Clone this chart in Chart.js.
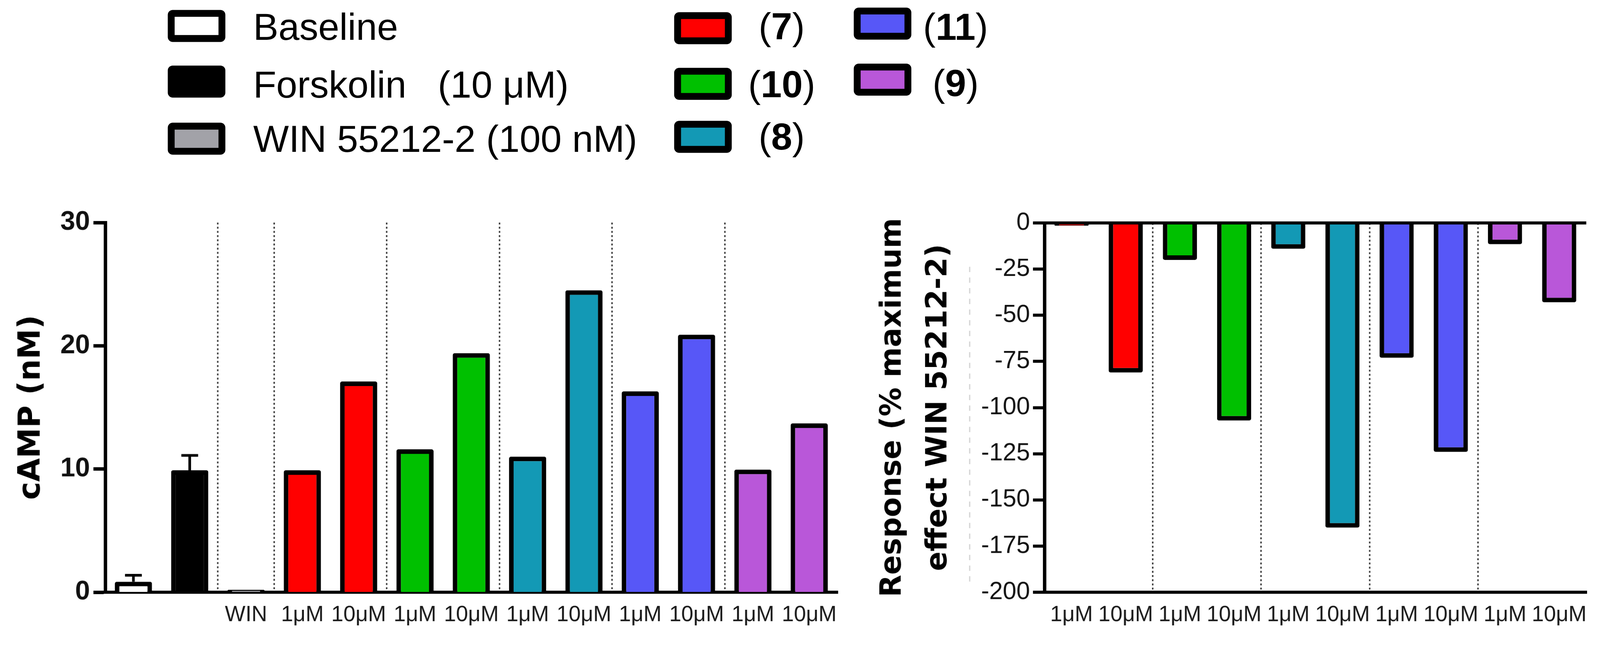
<!DOCTYPE html>
<html>
<head>
<meta charset="utf-8">
<script src="https://cdn.jsdelivr.net/npm/chart.js@4.4.0/dist/chart.umd.min.js"></script>
<style>
  html, body { margin: 0; padding: 0; background: #fff; overflow: hidden; }
  #page { width: 4196px; height: 1665px; position: absolute; left: 0; top: 0; transform-origin: 0 0; font-family: "Liberation Sans", Arial, sans-serif; }
  #leftWrap { position: absolute; left: 0; top: 500px; width: 2230px; height: 1165px; }
  #rightWrap { position: absolute; left: 2250px; top: 500px; width: 1946px; height: 1165px; }
  .lg-box { position: absolute; box-sizing: border-box; border: 18px solid #000; border-radius: 13px; }
  .lg-text { position: absolute; font-size: 99px; line-height: 1.15; white-space: pre; color: #000; }
</style>
</head>
<body>
<div id="page">
  <div id="legend"></div>
  <div id="leftWrap"><canvas id="left" width="2230" height="1165"></canvas></div>
  <div id="rightWrap"><canvas id="right" width="1946" height="1165"></canvas></div>
</div>
<script>
// ---------------- DATA ----------------
const legendLabels = ['Baseline', 'Forskolin   (10 μM)', 'WIN 55212-2 (100 nM)'];
const legendFills = ['#ffffff', '#000000', '#a2a2a8'];
const compounds = ['7', '10', '8', '11', '9'];
const compoundColors = ['#ff0000', '#00c000', '#1399b5', '#5757f7', '#b957d9'];

const leftLabels = ['', '', 'WIN', '1μM', '10μM', '1μM', '10μM', '1μM', '10μM', '1μM', '10μM', '1μM', '10μM'];
const campValues = [0.85, 9.9, 0.2, 9.9, 17.1, 11.6, 19.4, 11.0, 24.5, 16.3, 20.9, 9.95, 13.7];
const campErrors = [0.53, 1.2, null, null, null, null, null, null, null, null, null, null, null];
const leftTicks = [0, 10, 20, 30];

const rightLabels = ['1μM', '10μM', '1μM', '10μM', '1μM', '10μM', '1μM', '10μM', '1μM', '10μM'];
const responseValues = [-1.5, -81, -20, -107, -14, -165, -73, -124, -11.5, -43];
const rightTicks = [0, -25, -50, -75, -100, -125, -150, -175, -200];

// ---------------- PAGE SCALE (fit viewport) ----------------
const pageEl = document.getElementById('page');
const sc = Math.min(1, window.innerWidth / 4196, window.innerHeight / 1665);
if (sc < 1) pageEl.style.transform = 'scale(' + sc + ')';

// ---------------- LEGEND (HTML) ----------------
const legend = document.getElementById('legend');
const LG_FONT = 99;
function addItem(boxCX, boxCY, fill, html, textX, textCenterY, centered) {
  const w = 151, h = 84;
  const b = document.createElement('div');
  b.className = 'lg-box';
  b.style.left = (boxCX - w / 2) + 'px'; b.style.top = (boxCY - h / 2) + 'px';
  b.style.width = w + 'px'; b.style.height = h + 'px';
  b.style.background = fill;
  legend.appendChild(b);
  const t = document.createElement('div');
  t.className = 'lg-text';
  t.innerHTML = html;
  t.style.top = (textCenterY - 0.5635 * LG_FONT) + 'px';
  t.style.left = textX + 'px';
  if (centered) t.style.transform = 'translateX(-50%)';
  legend.appendChild(t);
}
const col1BoxY = [68, 214, 364];
const col1TextY = [69, 221, 363];
legendLabels.forEach((lab, i) => addItem(515, col1BoxY[i], legendFills[i], lab, 664, col1TextY[i], false));
const compLegendPos = [
  {bx: 1843, by: 74, tx: 2050, ty: 68},
  {bx: 1843, by: 220, tx: 2050, ty: 220},
  {bx: 1843, by: 359, tx: 2050, ty: 357},
  {bx: 2314, by: 62, tx: 2506, ty: 69},
  {bx: 2314, by: 209, tx: 2506, ty: 217}
];
compounds.forEach((c, i) => {
  const p = compLegendPos[i];
  addItem(p.bx, p.by, compoundColors[i], '(<b>' + c + '</b>)', p.tx, p.ty, true);
});

// ---------------- CHARTS ----------------
Chart.defaults.font.family = '"Liberation Sans", Arial, sans-serif';
Chart.defaults.color = '#000';
Chart.defaults.animation = false;

const leftColors = ['#ffffff', '#000000', legendFills[2]];
compoundColors.forEach(c => { leftColors.push(c, c); });
const rightColors = [];
compoundColors.forEach(c => { rightColors.push(c, c); });

const leftSeparators = [2, 3, 5, 7, 9, 11];
const rightSeparators = [2, 4, 6, 8];

const errorBarPlugin = {
  id: 'errorBars',
  afterDatasetsDraw(chart) {
    const meta = chart.getDatasetMeta(0);
    const ys = chart.scales.y;
    const ctx = chart.ctx;
    ctx.save();
    ctx.strokeStyle = '#000';
    ctx.lineWidth = 7;
    campErrors.forEach((e, i) => {
      if (e == null) return;
      const el = meta.data[i];
      const yTop = ys.getPixelForValue(campValues[i] + e);
      ctx.beginPath();
      ctx.moveTo(el.x, el.y);
      ctx.lineTo(el.x, yTop);
      ctx.moveTo(el.x - 22, yTop);
      ctx.lineTo(el.x + 22, yTop);
      ctx.stroke();
    });
    ctx.restore();
  }
};

new Chart(document.getElementById('left'), {
  type: 'bar',
  data: {
    labels: leftLabels,
    datasets: [{
      data: campValues,
      backgroundColor: leftColors,
      borderColor: '#000',
      borderWidth: 12,
      borderRadius: 5,
      borderSkipped: 'start',
      categoryPercentage: 1.0,
      barPercentage: 0.66
    }]
  },
  options: {
    responsive: false,
    devicePixelRatio: 1,
    layout: { padding: { top: 84, right: 34, left: 0, bottom: 0 } },
    plugins: { legend: { display: false }, tooltip: { enabled: false } },
    scales: {
      x: {
        offset: true,
        afterFit: s => { s.height = 111; },
        grid: {
          offset: true,
          drawTicks: false,
          lineWidth: 4,
          color: c => leftSeparators.includes(c.index) ? '#444' : 'rgba(0,0,0,0)'
        },
        border: { display: true, color: '#000', width: 8, dash: [5, 6] },
        ticks: { padding: 26, font: { size: 57 }, color: '#1a1a1a', maxRotation: 0, autoSkip: false }
      },
      y: {
        min: 0, max: 30,
        afterFit: s => { s.width = 276; },
        afterBuildTicks: s => { s.ticks = leftTicks.map(v => ({ value: v })); },
        grid: { drawOnChartArea: false, tickLength: 31, tickWidth: 9, tickColor: '#000', color: '#000' },
        border: { display: true, color: '#000', width: 9 },
        ticks: { padding: 9, font: { size: 70, weight: 'bold' }, color: '#111' },
        title: {
          display: true, text: 'cAMP (nM)',
          font: { family: '"DejaVu Sans", Verdana, sans-serif', size: 80, weight: 'bold', lineHeight: 1.2 },
          padding: { top: 35, bottom: 0 }, color: '#000'
        }
      }
    }
  },
  plugins: [errorBarPlugin]
});

const dashedArtifact = {
  id: 'dashedArtifact',
  beforeDraw(chart) {
    const ctx = chart.ctx;
    const ca = chart.chartArea;
    ctx.save();
    ctx.strokeStyle = '#d0d0d0';
    ctx.lineWidth = 3;
    ctx.setLineDash([14, 14]);
    ctx.beginPath();
    const x = ca.left - 196;
    ctx.moveTo(x, ca.top + 115);
    ctx.lineTo(x, ca.bottom - 20);
    ctx.stroke();
    ctx.restore();
  }
};

new Chart(document.getElementById('right'), {
  type: 'bar',
  data: {
    labels: rightLabels,
    datasets: [{
      data: responseValues,
      backgroundColor: rightColors,
      borderColor: '#000',
      borderWidth: 12,
      borderRadius: 5,
      borderSkipped: 'start',
      categoryPercentage: 1.0,
      barPercentage: 0.63
    }]
  },
  options: {
    responsive: false,
    devicePixelRatio: 1,
    layout: { padding: { top: 85, right: 36, left: 0, bottom: 0 } },
    plugins: { legend: { display: false }, tooltip: { enabled: false } },
    scales: {
      x: {
        offset: true,
        afterFit: s => { s.height = 111; },
        grid: {
          offset: true,
          drawTicks: false,
          lineWidth: 4,
          color: c => rightSeparators.includes(c.index) ? '#444' : 'rgba(0,0,0,0)'
        },
        border: { display: true, color: '#000', width: 8, dash: [5, 6] },
        ticks: { padding: 26, font: { size: 57 }, color: '#1a1a1a', maxRotation: 0, autoSkip: false }
      },
      y: {
        min: -200, max: 0,
        afterFit: s => { s.width = 489; },
        afterBuildTicks: s => { s.ticks = rightTicks.map(v => ({ value: v })); },
        grid: {
          drawOnChartArea: true, tickLength: 30, tickWidth: 8, tickColor: '#000',
          lineWidth: 8,
          color: c => (c.tick && c.tick.value === 0) ? '#000' : 'rgba(0,0,0,0)'
        },
        border: { display: true, color: '#000', width: 9 },
        ticks: { padding: 8, font: { size: 64 }, color: '#111' },
        title: {
          display: true, text: ['Response (% maximum', 'effect WIN 55212-2)'],
          font: { family: '"DejaVu Sans", Verdana, sans-serif', size: 76, weight: 'bold', lineHeight: 1.58 },
          padding: { top: 32, bottom: 0 }, color: '#000'
        }
      }
    }
  },
  plugins: [dashedArtifact]
});
</script>
</body>
</html>
